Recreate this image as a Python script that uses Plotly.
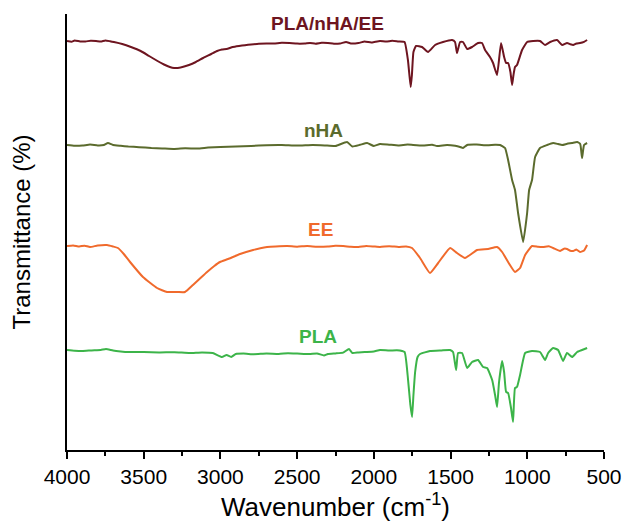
import plotly.graph_objects as go

# FTIR spectra, vertically offset (arbitrary transmittance units)
wn_composite = [4000, 3970, 3950, 3915, 3880, 3845, 3811, 3780, 3750, 3720, 3694, 3640, 3583, 3520,
                3465, 3410, 3368, 3330, 3302, 3260, 3205, 3160, 3113, 3060, 3022, 2990, 2960, 2920,
                2879, 2840, 2800, 2750, 2700, 2651, 2600, 2550, 2500, 2450, 2416, 2380, 2340, 2300,
                2260, 2220, 2181, 2150, 2100, 2060, 2018, 1990, 1960, 1920, 1880, 1840, 1800, 1778,
                1760, 1752, 1742, 1725, 1686, 1647, 1601, 1549, 1490, 1471, 1458, 1438, 1419, 1392,
                1360, 1321, 1295, 1275, 1243, 1223, 1197, 1171, 1151, 1138, 1125, 1110, 1099, 1090,
                1080, 1067, 1034, 1001, 962, 917, 884, 851, 806, 773, 741, 720, 701, 680, 656, 630, 610]
t_composite = [409, 408.3, 409.5, 408.6, 408.5, 409.3, 409, 408.4, 409.5, 408.8, 408, 406, 403, 399,
               394, 389, 385.5, 383, 382, 382.5, 385, 388, 392, 396, 399, 400.5, 401, 403,
               404, 404.8, 405.5, 406.3, 406.5, 406.5, 407.3, 407, 406.4, 406.5, 407, 406.3, 407.2, 407,
               406.2, 406.5, 408, 406.5, 407, 408.5, 407.5, 408.3, 409, 408.4, 409.2, 408.5, 408, 390,
               363, 375, 398, 404, 403, 398, 405, 408, 410, 408, 397, 408, 408, 401,
               403, 407, 407, 400, 393, 387, 375, 407, 393, 387, 387, 378, 365, 375,
               383, 385, 400, 408, 409, 409, 405, 408, 410, 405, 407, 405.8, 405, 406.5, 407, 408.2, 410]

wn_nha = [4000, 3950, 3900, 3850, 3800, 3760, 3733, 3700, 3650, 3600, 3530, 3450, 3380, 3300,
          3230, 3150, 3080, 3000, 2900, 2800, 2700, 2600, 2500, 2400, 2320, 2250, 2175, 2140,
          2090, 2044, 2000, 1960, 1900, 1840, 1780, 1744, 1680, 1620, 1588, 1523, 1470, 1438,
          1419, 1392, 1330, 1260, 1210, 1177, 1145, 1125, 1099, 1080, 1060, 1027, 1001, 988,
          969, 949, 917, 871, 832, 800, 773, 740, 708, 675, 655, 643, 630, 610]
t_nha = [305, 304.3, 304.5, 305.4, 304.6, 305, 307, 305, 304.2, 303.5, 302.8, 302, 301.6, 301,
         301.7, 301.5, 302.4, 303, 303.4, 304, 304.8, 305, 304.4, 305, 304.6, 304, 308, 303.5,
         305.2, 307, 304, 306, 305.3, 304.6, 305.4, 305, 304.5, 305.2, 304, 305, 304.2, 303,
         302, 305, 305.4, 304.7, 305.3, 305, 302, 290, 270, 260, 237, 208, 237, 260,
         270, 293, 302, 305, 307, 306, 305, 306.2, 307, 308, 306, 292, 305, 307]

wn_ee = [4000, 3960, 3920, 3885, 3850, 3800, 3739, 3700, 3668, 3630, 3589, 3505, 3413, 3348,
         3280, 3231, 3179, 3130, 3087, 3040, 3003, 2950, 2872, 2787, 2740, 2696, 2640, 2566,
         2500, 2435, 2370, 2300, 2250, 2200, 2150, 2100, 2050, 2000, 1960, 1900, 1840, 1790,
         1751, 1699, 1634, 1581, 1503, 1458, 1406, 1327, 1255, 1197, 1164, 1125, 1080, 1047,
         1014, 969, 930, 897, 860, 832, 786, 760, 741, 720, 701, 680, 656, 630, 610]
t_ee = [204, 204.6, 203.5, 204.3, 203, 204.5, 205, 203.5, 202, 196, 188, 173, 162, 158,
        158, 158, 165, 172, 178, 184, 188, 191, 196, 200, 201.8, 203, 203.6, 204,
        203.3, 204, 203.2, 203.5, 204.3, 204, 203.2, 203, 204.1, 203.5, 203, 203.8, 203.1, 203.6,
        202, 192, 177, 187, 202, 197, 192, 200, 201, 203, 198, 188, 178, 182,
        195, 204, 203.2, 203, 203.7, 202, 199, 201.3, 201, 199.2, 199, 200.5, 198, 199.5, 205]

wn_pla = [4000, 3950, 3900, 3840, 3780, 3746, 3700, 3650, 3600, 3500, 3400, 3300, 3200, 3120,
          3050, 2990, 2960, 2930, 2900, 2850, 2780, 2700, 2620, 2560, 2500, 2420, 2370, 2325,
          2300, 2250, 2200, 2162, 2140, 2100, 2060, 2000, 1960, 1900, 1850, 1800, 1780, 1762,
          1751, 1742, 1731, 1715, 1699, 1634, 1560, 1503, 1484, 1464, 1451, 1425, 1392, 1360,
          1321, 1288, 1262, 1229, 1210, 1197, 1184, 1164, 1151, 1138, 1125, 1106, 1093, 1080,
          1067, 1047, 1014, 969, 917, 884, 864, 832, 799, 767, 741, 708, 675, 643, 610]
t_pla = [100, 99.3, 99, 99.6, 100, 101, 99.5, 98.6, 98, 97.9, 97.5, 97.8, 97, 97.6,
         97, 93, 95, 93, 96, 96.4, 95.8, 96.5, 96.1, 96.8, 96.5, 95.9, 96.6, 94.5,
         96, 96.6, 97.4, 101, 97, 97.6, 98, 98.5, 100, 99.4, 99.8, 98, 75, 45,
         33, 55, 78, 93, 96, 99, 99.6, 100, 98, 80, 97, 97, 82, 88,
         90, 83, 82, 70, 55, 43, 68, 89, 78, 58, 57, 42, 28, 62,
         63, 75, 97, 99, 98, 90, 97, 102, 100, 89, 97, 93, 98, 100, 102]

names = ["PLA/nHA/EE", "nHA", "EE", "PLA"]
colors = ["#6e1520", "#5b6b2d", "#f06a2c", "#3cb449"]
label_x = [2299, 2331, 2351, 2364]
label_y = [427, 320, 221, 114]

series = [(wn_composite, t_composite), (wn_nha, t_nha), (wn_ee, t_ee), (wn_pla, t_pla)]

fig = go.Figure()
for (x, y), name, col in zip(series, names, colors):
    fig.add_trace(go.Scatter(x=x, y=y, mode="lines", name=name,
                             line=dict(color=col, width=2, shape="spline", smoothing=0.4)))

for name, col, lx, ly in zip(names, colors, label_x, label_y):
    fig.add_annotation(x=lx, y=ly, text=f"<b>{name}</b>", showarrow=False,
                       font=dict(family="Liberation Sans, Arial", size=19, color=col))

fig.update_layout(
    width=622, height=528,
    margin=dict(l=67, r=18, t=14, b=78),
    paper_bgcolor="white", plot_bgcolor="white",
    showlegend=False,
    font=dict(family="Liberation Sans, Arial", color="black"),
    xaxis=dict(range=[4000, 500], tickvals=[4000, 3500, 3000, 2500, 2000, 1500, 1000, 500],
               ticks="outside", ticklen=7, tickwidth=1.5, tickcolor="black",
               minor=dict(ticks="outside", ticklen=4, tickwidth=1.5, dtick=250, tickcolor="black"),
               showline=True, linecolor="black", linewidth=1.5, showgrid=False, zeroline=False,
               tickfont=dict(size=21), automargin=False,
               title=dict(text="Wavenumber (cm<sup>-1</sup>)", font=dict(size=26), standoff=11)),
    yaxis=dict(range=[0, 436], showticklabels=False, ticks="", showline=True,
               linecolor="black", linewidth=1.5, showgrid=False, zeroline=False, automargin=False,
               title=dict(text="Transmittance (%)", font=dict(size=24), standoff=28)),
)

fig.write_html("out.html")
